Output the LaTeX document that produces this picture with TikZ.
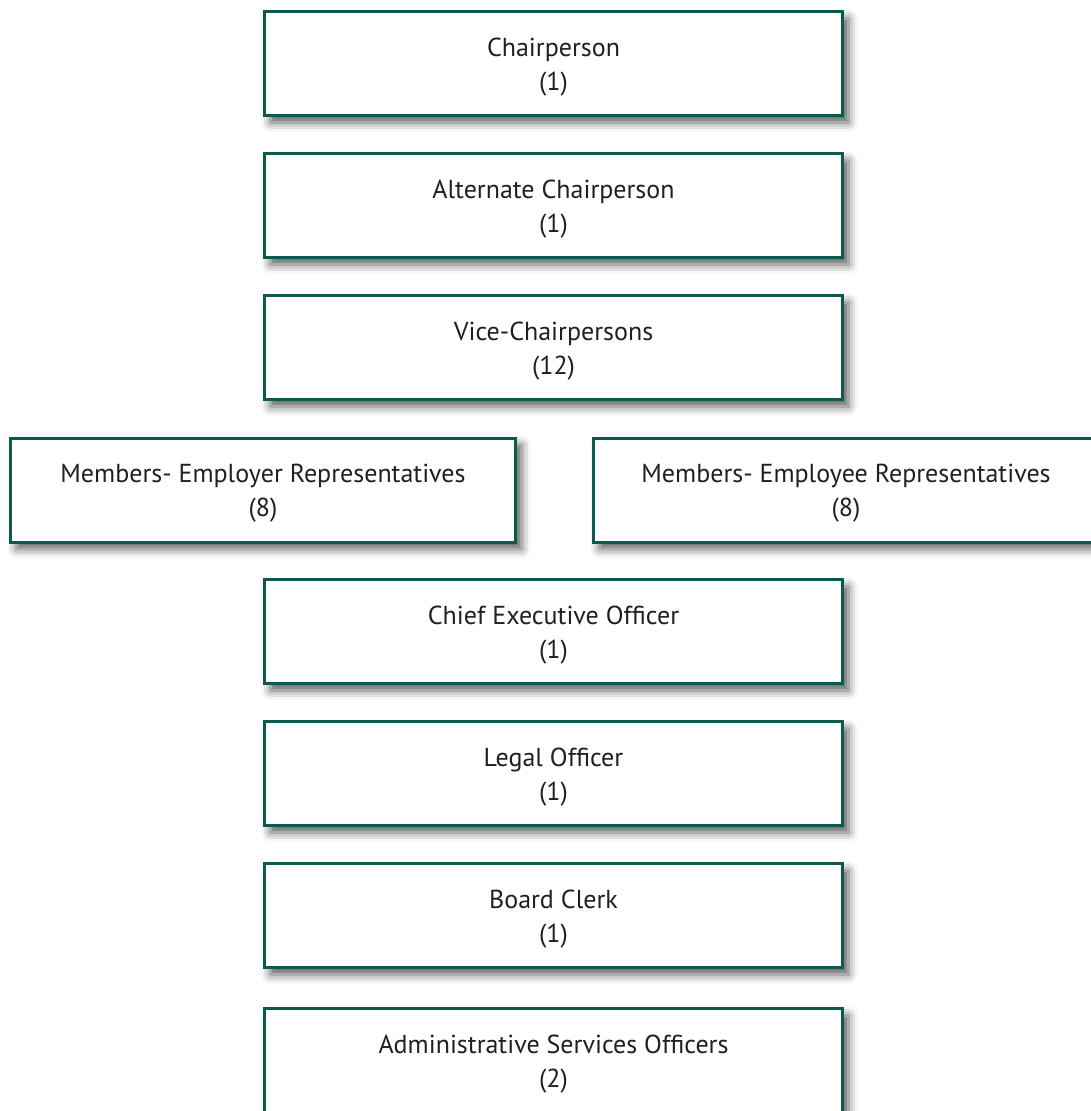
\documentclass[tikz,border=0pt]{standalone}
\usepackage{fontspec}
\setmainfont{PT Sans}
\usetikzlibrary{shadows.blur}
\definecolor{boxgreen}{HTML}{0A5B4E}
\definecolor{txtgrey}{HTML}{231F20}
\newcommand\tsp{\rule{0pt}{25pt}}
\tikzset{
  orgbox/.style={draw=boxgreen, line width=3pt, fill=white, rectangle,
    minimum height=104pt, inner sep=0pt, align=center, text=txtgrey,
    font=\fontsize{26}{34}\selectfont,
    blur shadow={shadow xshift=6pt, shadow yshift=-7pt, shadow blur radius=9pt, shadow opacity=65}},
  widebox/.style={orgbox, minimum width=578pt},
  sidebox/.style={orgbox, minimum width=505pt}
}
\begin{document}
\begin{tikzpicture}[x=1pt,y=-1pt]
\useasboundingbox (0,0) rectangle (1091,1111);
\clip (0,0) rectangle (1091,1111);
\node[widebox] (chair) at (553.5,63.5) {\tsp Chairperson\\(1)};
\node[widebox] (alt) at (553.5,205.5) {\tsp Alternate Chairperson\\(1)};
\node[widebox] (vice) at (553.5,347.5) {\tsp Vice-Chairpersons\\(12)};
\node[sidebox] (employer) at (263,490) {\tsp Members- Employer Representatives\\(8)};
\node[sidebox] (employee) at (846,490) {\tsp Members- Employee Representatives\\(8)};
\node[widebox] (ceo) at (553.5,631.5) {\tsp Chief Executive Officer\\(1)};
\node[widebox] (legal) at (553.5,773.5) {\tsp Legal Officer\\(1)};
\node[widebox] (clerk) at (553.5,915.5) {\tsp Board Clerk\\(1)};
\node[widebox] (admin) at (553.5,1060.5) {\tsp Administrative Services Officers\\(2)};
\end{tikzpicture}
\end{document}
